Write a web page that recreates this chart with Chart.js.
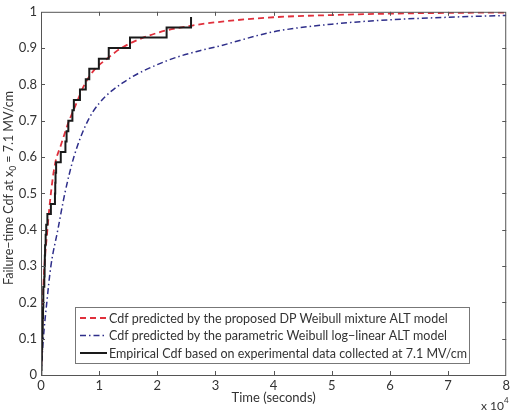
<!DOCTYPE html>
<html>
<head>
<meta charset="utf-8">
<script src="https://cdn.jsdelivr.net/npm/chart.js@4.4.0/dist/chart.umd.min.js"></script>
<style>
  html, body { margin: 0; padding: 0; background: #fff; }
  #wrap { width: 513px; height: 411px; }
</style>
</head>
<body>
<div id="wrap"><canvas id="cdf"></canvas></div>
<script>
// time in units of 10^4 seconds
var dpTime = [0, 0.02, 0.043, 0.11, 0.17, 0.24, 0.343, 0.46, 0.583, 0.75, 0.926, 1.13, 1.38, 2.0, 2.6, 3.0, 4.0, 5.0, 6.0, 7.0, 8.0];
var dpCdf = [0, 0.12, 0.25, 0.4, 0.5, 0.58, 0.633, 0.69, 0.738, 0.8, 0.842, 0.87, 0.9, 0.942, 0.962, 0.971, 0.985, 0.991, 0.995, 0.997, 0.998];

var weibullTime = [0, 0.04, 0.1, 0.17, 0.29, 0.41, 0.565, 0.79, 1.0, 1.41, 2.16, 2.73, 3.0, 4.0, 5.0, 6.0, 7.0, 8.0];
var weibullCdf = [0, 0.1, 0.2, 0.3, 0.4, 0.5, 0.6, 0.695, 0.748, 0.805, 0.865, 0.893, 0.903, 0.945, 0.966, 0.978, 0.985, 0.99];

var empTime = [0, 0.005, 0.01, 0.015, 0.02, 0.025, 0.03, 0.035, 0.04, 0.04, 0.057, 0.062, 0.066, 0.07, 0.08, 0.09, 0.11, 0.17,
  0.24, 0.245, 0.25, 0.26, 0.34, 0.42, 0.44, 0.47, 0.54, 0.565, 0.67, 0.77, 0.83, 0.995, 1.165, 1.53, 2.16, 2.58];
var empCdf = [0, 0.014, 0.043, 0.071, 0.1, 0.129, 0.157, 0.186, 0.214, 0.243, 0.271, 0.3, 0.329, 0.357, 0.386, 0.414, 0.443, 0.471,
  0.5, 0.529, 0.557, 0.586, 0.614, 0.643, 0.671, 0.7, 0.729, 0.757, 0.786, 0.814, 0.843, 0.871, 0.9, 0.929, 0.957, 0.986];

var xTickLabels = ['0', '1', '2', '3', '4', '5', '6', '7', '8'];
var yTickLabels = ['0', '0.1', '0.2', '0.3', '0.4', '0.5', '0.6', '0.7', '0.8', '0.9', '1'];

var legendLabels = [
  'Cdf predicted by the proposed DP Weibull mixture ALT model',
  'Cdf predicted by the parametric Weibull log\u2212linear ALT model',
  'Empirical Cdf based on experimental data collected at 7.1 MV/cm'
];

var FONT = 'Lato, "Open Sans", sans-serif';
var TEXT = '#333';

function toPoints(xs, ys) {
  return xs.map(function(x, i) { return { x: x, y: ys[i] }; });
}

// MATLAB style box, inward ticks, custom axis titles and legend
var decorations = {
  id: 'decorations',
  afterDatasetsDraw: function(chart) {
    var ctx = chart.ctx;
    var a = chart.chartArea;
    var xs = chart.scales.x, ys = chart.scales.y;
    ctx.save();
    ctx.strokeStyle = '#555';
    ctx.lineWidth = 1;
    ctx.strokeRect(a.left + 0.5, a.top + 0.5, a.right - a.left - 1, a.bottom - a.top);
    ctx.beginPath();
    for (var i = 1; i < xTickLabels.length - 1; i++) {
      var px = Math.round(xs.getPixelForValue(i)) + 0.5;
      ctx.moveTo(px, a.bottom); ctx.lineTo(px, a.bottom - 4);
      ctx.moveTo(px, a.top); ctx.lineTo(px, a.top + 4);
    }
    for (var j = 1; j < yTickLabels.length - 1; j++) {
      var py = Math.round(ys.getPixelForValue(j / 10)) + 0.5;
      ctx.moveTo(a.left, py); ctx.lineTo(a.left + 4, py);
      ctx.moveTo(a.right, py); ctx.lineTo(a.right - 4, py);
    }
    ctx.stroke();

    // legend
    var lx = 75, ly = 307, lw = 394, lh = 56;
    ctx.fillStyle = '#fff';
    ctx.fillRect(lx, ly, lw, lh);
    ctx.strokeStyle = '#777';
    ctx.strokeRect(lx + 0.5, ly + 0.5, lw, lh);
    ctx.font = '12.5px ' + FONT;
    ctx.textBaseline = 'middle';
    ctx.textAlign = 'left';
    chart.data.datasets.forEach(function(ds, k) {
      var y = ly + 11 + k * 17.5;
      ctx.beginPath();
      ctx.strokeStyle = ds.borderColor;
      ctx.lineWidth = ds.borderWidth;
      ctx.setLineDash(ds.borderDash || []);
      ctx.moveTo(lx + 5, y); ctx.lineTo(lx + 32, y);
      ctx.stroke();
      ctx.setLineDash([]);
      ctx.fillStyle = TEXT;
      ctx.fillText(legendLabels[k], lx + 34, y + 0.5);
    });

    // axis titles
    ctx.fillStyle = TEXT;
    ctx.font = '13px ' + FONT;
    ctx.textAlign = 'center';
    ctx.fillText('Time (seconds)', (a.left + a.right) / 2, 398);
    ctx.textAlign = 'left';
    ctx.font = '12px ' + FONT;
    ctx.fillText('x 10', 481, 406);
    ctx.font = '8px ' + FONT;
    ctx.fillText('4', 504, 400);

    ctx.translate(9, 188);
    ctx.rotate(-Math.PI / 2);
    var p1 = 'Failure\u2212time Cdf at x', p2 = ' = 7.1 MV/cm';
    ctx.font = '12.5px ' + FONT;
    var w1 = ctx.measureText(p1).width;
    ctx.font = '8.5px ' + FONT;
    var ws = ctx.measureText('0').width;
    ctx.font = '12.5px ' + FONT;
    var w2 = ctx.measureText(p2).width;
    var start = -(w1 + ws + w2) / 2;
    ctx.fillText(p1, start, 0);
    ctx.font = '8.5px ' + FONT;
    ctx.fillText('0', start + w1, 4);
    ctx.font = '12.5px ' + FONT;
    ctx.fillText(p2, start + w1 + ws, 0);
    ctx.restore();
  }
};

new Chart(document.getElementById('cdf'), {
  type: 'line',
  data: {
    datasets: [
      {
        label: legendLabels[0],
        data: toPoints(dpTime, dpCdf),
        borderColor: '#e0303c',
        borderWidth: 1.8,
        borderDash: [6, 4],
        cubicInterpolationMode: 'monotone',
        pointRadius: 0,
        fill: false,
        order: 2
      },
      {
        label: legendLabels[1],
        data: toPoints(weibullTime, weibullCdf),
        borderColor: '#2e2e8a',
        borderWidth: 1.5,
        borderDash: [6, 3, 1.5, 3],
        cubicInterpolationMode: 'monotone',
        pointRadius: 0,
        fill: false,
        order: 3
      },
      {
        label: legendLabels[2],
        data: toPoints(empTime, empCdf),
        borderColor: '#1a1a1a',
        borderWidth: 2,
        stepped: 'before',
        pointRadius: 0,
        fill: false,
        order: 1
      }
    ]
  },
  options: {
    responsive: true,
    maintainAspectRatio: false,
    animation: false,
    layout: { padding: { top: 9, right: 5, left: 0, bottom: 0 } },
    plugins: { legend: { display: false }, tooltip: { enabled: false } },
    scales: {
      x: {
        type: 'linear',
        min: 0,
        max: 8,
        afterFit: function(s) { s.height = 36; },
        grid: { display: false, drawTicks: false },
        border: { display: false },
        ticks: {
          stepSize: 1,
          padding: 3,
          color: TEXT,
          font: { family: FONT, size: 13 },
          callback: function(v) { return xTickLabels[Math.round(v)]; }
        }
      },
      y: {
        type: 'linear',
        min: 0,
        max: 1,
        afterFit: function(s) { s.width = 41; },
        grid: { display: false, drawTicks: false },
        border: { display: false },
        ticks: {
          stepSize: 0.1,
          padding: 4,
          color: TEXT,
          font: { family: FONT, size: 13 },
          callback: function(v) { return yTickLabels[Math.round(v * 10)]; }
        }
      }
    }
  },
  plugins: [decorations]
});
</script>
</body>
</html>
